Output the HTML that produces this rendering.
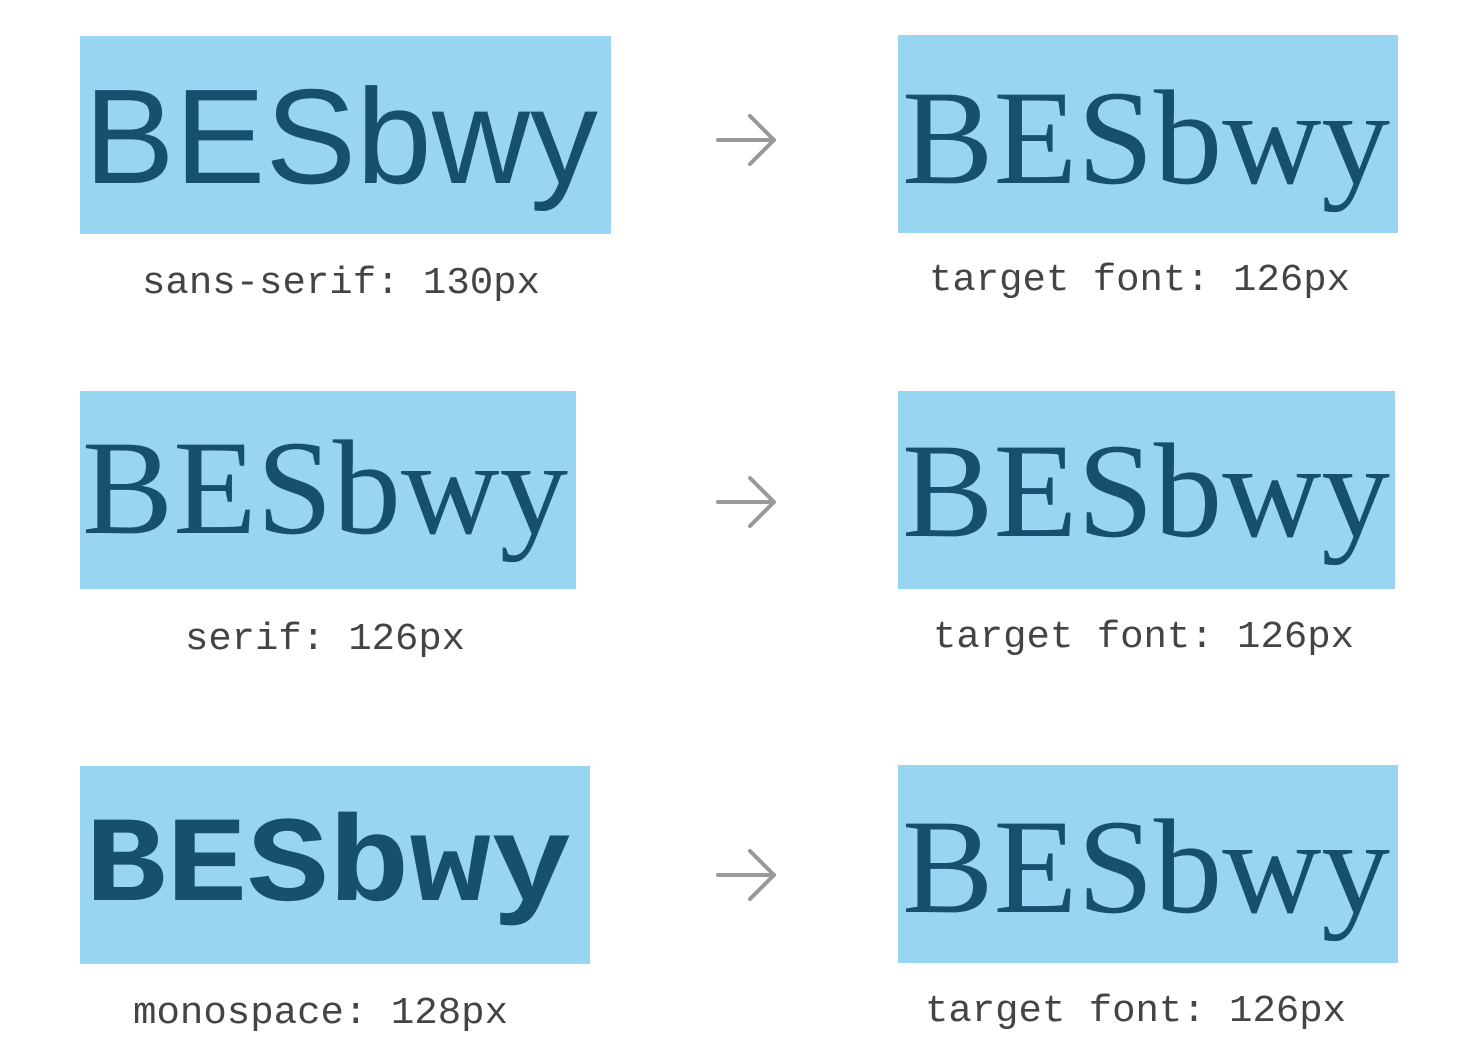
<!DOCTYPE html>
<html><head><meta charset="utf-8"><style>html,body{margin:0;padding:0;background:#fff}</style></head>
<body>
<svg width="1480" height="1047" viewBox="0 0 1480 1047" xmlns="http://www.w3.org/2000/svg">
<g fill="#97d5f0">
<rect x="80" y="36" width="531" height="198"/>
<rect x="898" y="35" width="500" height="198"/>
<rect x="80" y="391" width="496" height="198"/>
<rect x="898" y="391" width="497" height="198"/>
<rect x="80" y="766" width="510" height="198"/>
<rect x="898" y="765" width="500" height="198"/>
</g>
<g fill="#16506d">
<text x="84" y="183" font-family="Liberation Sans, sans-serif" font-size="135" textLength="514" lengthAdjust="spacingAndGlyphs">BESbwy</text>
<text x="82" y="533" font-family="Liberation Serif, serif" font-size="135" textLength="486" lengthAdjust="spacingAndGlyphs">BESbwy</text>
<text x="85" y="900" font-family="Liberation Mono, monospace" font-weight="bold" font-size="122" textLength="487" lengthAdjust="spacingAndGlyphs">BESbwy</text>
<text x="902" y="183" font-family="Liberation Serif, serif" font-size="135" textLength="488" lengthAdjust="spacingAndGlyphs">BESbwy</text>
<text x="902" y="536" font-family="Liberation Serif, serif" font-size="135" textLength="488" lengthAdjust="spacingAndGlyphs">BESbwy</text>
<text x="902" y="912" font-family="Liberation Serif, serif" font-size="135" textLength="488" lengthAdjust="spacingAndGlyphs">BESbwy</text>
</g>
<g fill="#444" font-family="Liberation Mono, monospace" font-size="38">
<text x="142" y="293" textLength="398" lengthAdjust="spacingAndGlyphs">sans-serif: 130px</text>
<text x="185" y="649" textLength="280" lengthAdjust="spacingAndGlyphs">serif: 126px</text>
<text x="133" y="1023" textLength="375" lengthAdjust="spacingAndGlyphs">monospace: 128px</text>
<text x="929" y="290" textLength="421" lengthAdjust="spacingAndGlyphs">target font: 126px</text>
<text x="933" y="647" textLength="421" lengthAdjust="spacingAndGlyphs">target font: 126px</text>
<text x="925" y="1021" textLength="421" lengthAdjust="spacingAndGlyphs">target font: 126px</text>
</g>
<g stroke="#999" stroke-width="4" fill="none" stroke-linecap="round" stroke-linejoin="round">
<path d="M718 140 H774 M750 116 L774 140 L750 164"/>
<path d="M718 502 H774 M750 478 L774 502 L750 526"/>
<path d="M718 875 H774 M750 851 L774 875 L750 899"/>
</g>
</svg>
</body></html>
